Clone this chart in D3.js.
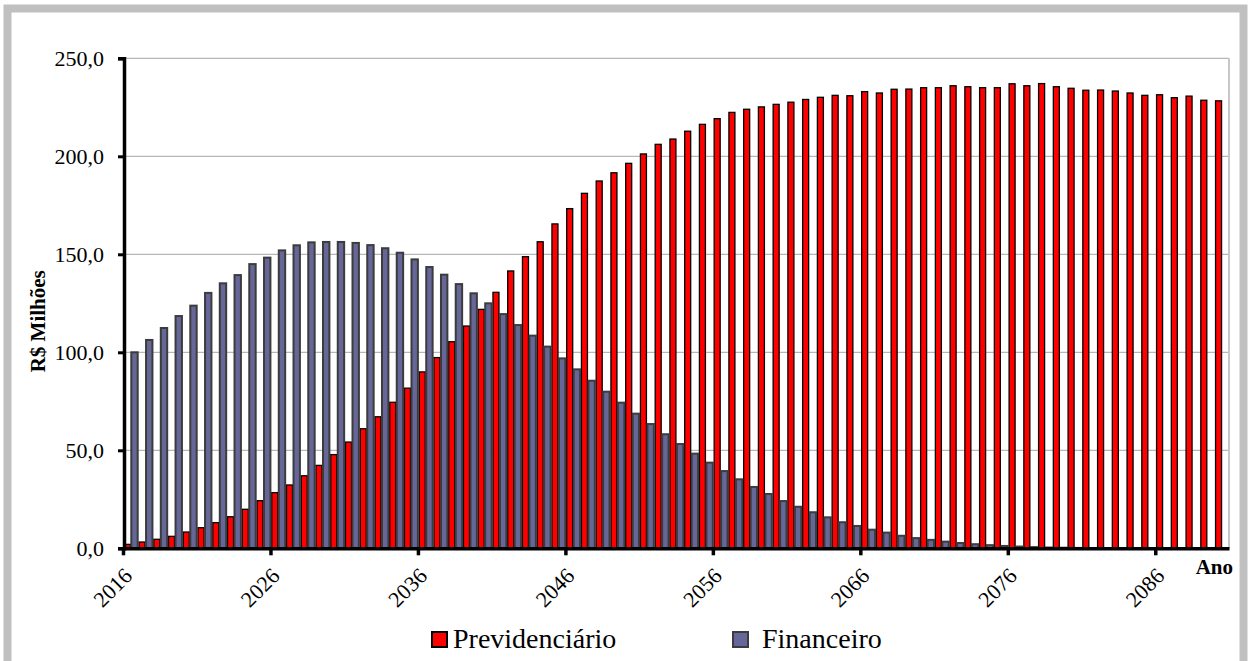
<!DOCTYPE html>
<html>
<head>
<meta charset="utf-8">
<script src="https://cdn.jsdelivr.net/npm/d3@7"></script>
<style>
  html, body { margin: 0; padding: 0; background: #fff; }
  svg { display: block; }
  text { font-family: "Liberation Serif", "Times New Roman", serif; fill: #000; }
</style>
</head>
<body>
<svg id="chart" width="1252" height="661"></svg>
<script>
// ---- Data ----
const years = d3.range(2016, 2091);
const previdenciario = [
  2.0, 3.2, 4.6, 6.1, 8.3, 10.5, 13.1, 16.1, 19.9, 24.3,
  28.4, 32.3, 37.0, 42.3, 47.8, 54.2, 61.0, 67.1, 74.5, 81.7,
  90.0, 97.3, 105.4, 113.4, 121.9, 130.6, 141.5, 148.8, 156.4, 165.5,
  173.3, 181.1, 187.4, 191.6, 196.4, 201.2, 206.1, 208.8, 212.8, 216.3,
  219.2, 222.4, 224.0, 225.2, 226.5, 227.6, 229.0, 230.1, 231.1, 230.9,
  233.0, 232.3, 234.2, 234.3, 235.0, 235.0, 236.0, 235.5, 235.0, 235.0,
  237.0, 236.0, 237.1, 235.5, 234.7, 233.7, 233.8, 233.3, 232.3, 231.1,
  231.4, 229.9, 230.7, 228.6, 228.3
];
const financeiro = [
  100.0, 106.3, 112.4, 118.5, 123.8, 130.3, 135.2, 139.4, 145.0, 148.3,
  152.0, 154.6, 156.1, 156.3, 156.3, 155.8, 154.7, 153.1, 150.8, 147.4,
  143.5, 139.6, 134.8, 130.1, 125.0, 119.5, 113.9, 108.5, 102.9, 96.9,
  91.3, 85.5, 79.9, 74.3, 68.7, 63.4, 58.2, 53.2, 48.3, 43.7,
  39.4, 35.2, 31.3, 27.7, 24.1, 21.2, 18.4, 15.8, 13.3, 11.4,
  9.5, 8.0, 6.4, 5.2, 4.3, 3.4, 2.7, 2.1, 1.6, 1.2,
  0.9, 0.6, 0.4, 0.3, 0.2, 0.1, 0.1, 0, 0, 0,
  0, 0, 0, 0, 0
];
const yTicks = [0, 50, 100, 150, 200, 250];
const xTickYears = [2016, 2026, 2036, 2046, 2056, 2066, 2076, 2086];
const seriesNames = ["Previdenciário", "Financeiro"];
const yTitle = "R$ Milhões";
const xTitle = "Ano";

// ---- Layout ----
const plot = { left: 123, right: 1229, top: 58.3, bottom: 548.3 };
const svg = d3.select("#chart");
const serif = "'Liberation Serif', 'Times New Roman', serif";

// outer frame
svg.append("rect")
  .attr("x", 7.5).attr("y", 8.5).attr("width", 1236).attr("height", 680)
  .attr("fill", "#fff").attr("stroke", "#c0c0c0").attr("stroke-width", 8);

const x = d3.scaleBand().domain(years).range([plot.left, plot.right]).padding(0);
const xLin = d3.scaleLinear().domain([2016, 2091]).range([plot.left, plot.right]);
const y = d3.scaleLinear().domain([0, 250]).range([plot.bottom, plot.top]);

// gridlines
svg.append("g").selectAll("line").data(yTicks.filter(d => d > 0)).join("line")
  .attr("x1", plot.left).attr("x2", plot.right)
  .attr("y1", d => y(d)).attr("y2", d => y(d))
  .attr("stroke", "#a6a6a6").attr("stroke-width", 1);

// right plot border
svg.append("line")
  .attr("x1", plot.right).attr("x2", plot.right)
  .attr("y1", plot.top).attr("y2", plot.bottom)
  .attr("stroke", "#c8c8c8").attr("stroke-width", 2);

// Previdenciário bars (red)
svg.append("g").selectAll("rect").data(years).join("rect")
  .attr("x", d => x(d) + 1.3)
  .attr("width", 6)
  .attr("y", (d, i) => y(previdenciario[i]))
  .attr("height", (d, i) => y(0) - y(previdenciario[i]))
  .attr("fill", "#ff0000").attr("stroke", "#000").attr("stroke-width", 1.3);

// Financeiro bars (blue-gray), drawn on top
svg.append("g").selectAll("rect").data(years.filter((d, i) => financeiro[i] > 0)).join("rect")
  .attr("x", d => x(d) + 8.3)
  .attr("width", 6.4)
  .attr("y", d => y(financeiro[years.indexOf(d)]))
  .attr("height", d => y(0) - y(financeiro[years.indexOf(d)]))
  .attr("fill", "#666699").attr("stroke", "#3c3c3c").attr("stroke-width", 2);

// Y axis
const yAxis = d3.axisLeft(y).tickValues(yTicks)
  .tickFormat(d => d3.format(".1f")(d).replace(".", ","))
  .tickSize(6).tickPadding(14);
const gy = svg.append("g").attr("transform", `translate(${plot.left + 1},0)`).call(yAxis);
gy.select(".domain").attr("stroke", "#000").attr("stroke-width", 3.5);
gy.selectAll(".tick line").attr("stroke", "#000").attr("stroke-width", 3);
gy.selectAll(".tick text")
  .style("font-family", serif)
  .style("font-size", "22px");

// X axis
const xAxis = d3.axisBottom(xLin).tickValues(xTickYears).tickFormat(d => String(d))
  .tickSize(7).tickSizeOuter(0);
const gx = svg.append("g").attr("transform", `translate(0,${plot.bottom})`).call(xAxis);
gx.select(".domain").attr("stroke", "#000").attr("stroke-width", 3.5);
gx.selectAll(".tick line").attr("stroke", "#000").attr("stroke-width", 3.5);
gx.selectAll(".tick text")
  .attr("y", 0).attr("dy", 0)
  .attr("text-anchor", "end")
  .attr("transform", "translate(10,29) rotate(-45)")
  .style("font-family", serif)
  .style("font-size", "22px");

// axis titles
svg.append("text")
  .attr("transform", `translate(45,${(plot.top + plot.bottom) / 2 + 18}) rotate(-90)`)
  .attr("text-anchor", "middle")
  .style("font-size", "21px").style("font-weight", "bold")
  .text(yTitle);
svg.append("text")
  .attr("x", 1233).attr("y", 574).attr("text-anchor", "end")
  .style("font-size", "21px").style("font-weight", "bold")
  .text(xTitle);

// legend
const legend = [
  { name: seriesNames[0], fill: "#ff0000", stroke: "#000", sx: 432, tx: 453 },
  { name: seriesNames[1], fill: "#666699", stroke: "#3c3c3c", sx: 733, tx: 762 }
];
const lg = svg.append("g");
legend.forEach(l => {
  lg.append("rect").attr("x", l.sx).attr("y", 632).attr("width", 15).attr("height", 15)
    .attr("fill", l.fill).attr("stroke", l.stroke).attr("stroke-width", 2);
  lg.append("text").attr("x", l.tx).attr("y", 648)
    .style("font-size", "28px").text(l.name);
});
</script>
</body>
</html>
